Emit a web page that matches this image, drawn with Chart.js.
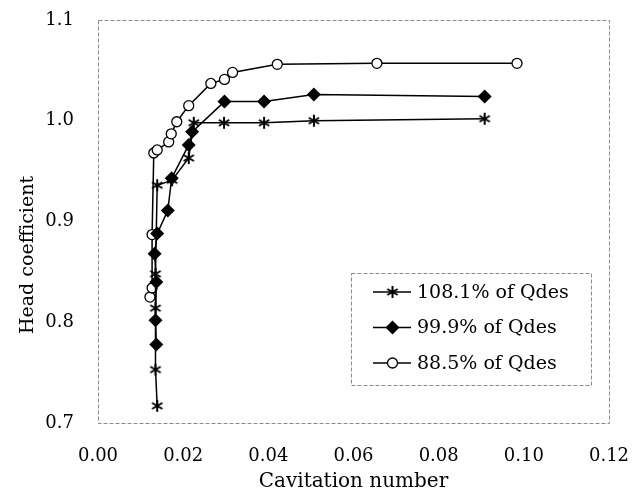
<!DOCTYPE html>
<html>
<head>
  <meta charset="UTF-8">
  <title>Head coefficient vs cavitation number</title>
  <script src="https://cdn.jsdelivr.net/npm/chart.js"></script>
  <style>
    html, body { margin: 0; padding: 0; background: #fff; }
    #wrap { width: 637px; height: 495px; }
  </style>
</head>
<body>
  <div id="wrap"><canvas id="headChart" width="637" height="495"></canvas></div>

  <script>
    // values
    const seriesLabels = ['108.1% of Qdes', '99.9% of Qdes', '88.5% of Qdes'];

    const sigma1081 = [0.0139, 0.0135, 0.0135, 0.0135, 0.0139, 0.0174, 0.0213, 0.0225, 0.0296, 0.0390, 0.0507, 0.0908];
    const head1081  = [0.717, 0.753, 0.814, 0.848, 0.936, 0.941, 0.963, 0.998, 0.998, 0.998, 1.000, 1.002];

    const sigma999 = [0.0137, 0.0135, 0.0137, 0.0133, 0.0139, 0.0164, 0.0173, 0.0213, 0.0221, 0.0297, 0.0390, 0.0507, 0.0908];
    const head999  = [0.778, 0.802, 0.840, 0.868, 0.888, 0.911, 0.943, 0.976, 0.989, 1.019, 1.019, 1.026, 1.024];

    const sigma885 = [0.0122, 0.0127, 0.0127, 0.0131, 0.0139, 0.0166, 0.0172, 0.0185, 0.0213, 0.0265, 0.0297, 0.0316, 0.0421, 0.0655, 0.0984];
    const head885  = [0.825, 0.834, 0.887, 0.968, 0.971, 0.979, 0.987, 0.999, 1.015, 1.037, 1.041, 1.048, 1.056, 1.057, 1.057];

    const xTicks = [0, 0.02, 0.04, 0.06, 0.08, 0.10, 0.12];
    const yTicks = [0.7, 0.8, 0.9, 1.0, 1.1];

    const serif = "'DejaVu Serif', 'Liberation Serif', serif";

    function toPoints(xs, ys) {
      return xs.map((x, i) => ({ x: x, y: ys[i] }));
    }

    // six-armed asterisk marker
    function makeAsterisk(size) {
      const c = document.createElement('canvas');
      c.width = size; c.height = size;
      const g = c.getContext('2d');
      const m = size / 2, r = size / 2 - 1;
      g.strokeStyle = '#000';
      g.lineWidth = 2;
      g.beginPath();
      for (let k = 0; k < 3; k++) {
        const a = Math.PI / 2 + k * Math.PI / 3;
        g.moveTo(m + r * Math.cos(a), m + r * Math.sin(a));
        g.lineTo(m - r * Math.cos(a), m - r * Math.sin(a));
      }
      g.stroke();
      return c;
    }
    const asterisk = makeAsterisk(14);

    function drawMarker(ctx, kind, x, y) {
      ctx.save();
      ctx.setLineDash([]);
      if (kind === 0) {
        ctx.drawImage(asterisk, x - 7, y - 7);
      } else if (kind === 1) {
        ctx.fillStyle = '#000';
        ctx.beginPath();
        ctx.moveTo(x, y - 7); ctx.lineTo(x + 7, y); ctx.lineTo(x, y + 7); ctx.lineTo(x - 7, y);
        ctx.closePath();
        ctx.fill();
      } else {
        ctx.fillStyle = '#fff';
        ctx.strokeStyle = '#000';
        ctx.lineWidth = 1.3;
        ctx.beginPath();
        ctx.arc(x, y, 5, 0, Math.PI * 2);
        ctx.fill();
        ctx.stroke();
      }
      ctx.restore();
    }

    // plot frame, y title and legend box
    const framePlugin = {
      id: 'frame',
      beforeDatasetsDraw(chart) {
        const a = chart.chartArea, ctx = chart.ctx;
        ctx.save();
        ctx.strokeStyle = '#8a8a8a';
        ctx.lineWidth = 1;
        ctx.setLineDash([4, 2]);
        ctx.strokeRect(a.left + 0.5, a.top + 0.5, a.right - a.left, a.bottom - a.top);
        ctx.setLineDash([]);
        ctx.translate(28, 255);
        ctx.rotate(-Math.PI / 2);
        ctx.fillStyle = '#000';
        ctx.font = '19px ' + serif;
        ctx.textAlign = 'center';
        ctx.textBaseline = 'middle';
        ctx.fillText('Head coefficient', 0, 0);
        ctx.restore();
      },
      afterDraw(chart) {
        const ctx = chart.ctx;
        const bx = 351, by = 273, bw = 240, bh = 112;
        ctx.save();
        ctx.fillStyle = '#fff';
        ctx.fillRect(bx, by, bw, bh);
        ctx.strokeStyle = '#8a8a8a';
        ctx.lineWidth = 1;
        ctx.setLineDash([4, 2]);
        ctx.strokeRect(bx + 0.5, by + 0.5, bw, bh);
        ctx.setLineDash([]);
        chart.data.datasets.forEach((ds, i) => {
          const y = 292 + i * 35.5;
          ctx.strokeStyle = '#000';
          ctx.lineWidth = 1.5;
          ctx.beginPath();
          ctx.moveTo(373, y); ctx.lineTo(411, y);
          ctx.stroke();
          drawMarker(ctx, i, 392.5, y);
          ctx.fillStyle = '#000';
          ctx.font = '19px ' + serif;
          ctx.textBaseline = 'middle';
          ctx.fillText(ds.label, 417, y + 1);
        });
        ctx.restore();
      }
    };

    const ctx = document.getElementById('headChart').getContext('2d');

    new Chart(ctx, {
      type: 'line',
      data: {
        datasets: [
          {
            label: seriesLabels[0],
            data: toPoints(sigma1081, head1081),
            borderColor: '#000',
            borderWidth: 1.5,
            pointStyle: asterisk,
            pointRadius: 7,
            fill: false,
            tension: 0
          },
          {
            label: seriesLabels[1],
            data: toPoints(sigma999, head999),
            borderColor: '#000',
            borderWidth: 1.5,
            pointStyle: 'rectRot',
            pointRadius: 7,
            pointBackgroundColor: '#000',
            pointBorderColor: '#000',
            pointBorderWidth: 0,
            fill: false,
            tension: 0
          },
          {
            label: seriesLabels[2],
            data: toPoints(sigma885, head885),
            borderColor: '#000',
            borderWidth: 1.5,
            pointStyle: 'circle',
            pointRadius: 5,
            pointBackgroundColor: '#fff',
            pointBorderColor: '#000',
            pointBorderWidth: 1.3,
            fill: false,
            tension: 0
          }
        ]
      },
      options: {
        responsive: false,
        animation: false,
        layout: { padding: { left: 0, top: 20, right: 28, bottom: 0 } },
        plugins: {
          legend: { display: false },
          tooltip: { enabled: false }
        },
        scales: {
          x: {
            type: 'linear',
            min: 0,
            max: 0.12,
            afterBuildTicks: s => { s.ticks = xTicks.map(v => ({ value: v })); },
            afterFit: s => { s.height = 72; },
            grid: { display: true, drawOnChartArea: false, drawTicks: true, tickLength: 23, tickColor: 'rgba(0,0,0,0)' },
            border: { display: false },
            ticks: {
              color: '#000',
              padding: 0,
              font: { family: serif, size: 18 },
              callback: v => v.toFixed(2)
            },
            title: {
              display: true,
              text: 'Cavitation number',
              color: '#000',
              padding: { top: 0, bottom: 1 },
              font: { family: serif, size: 20 }
            }
          },
          y: {
            min: 0.7,
            max: 1.1,
            afterBuildTicks: s => { s.ticks = yTicks.map(v => ({ value: v })); },
            afterFit: s => { s.width = 98; },
            grid: { display: true, drawOnChartArea: false, drawTicks: true, tickLength: 24, tickColor: 'rgba(0,0,0,0)' },
            border: { display: false },
            ticks: {
              color: '#000',
              padding: 0,
              font: { family: serif, size: 18 },
              callback: v => v.toFixed(1)
            }
          }
        }
      },
      plugins: [framePlugin]
    });
  </script>
</body>
</html>
